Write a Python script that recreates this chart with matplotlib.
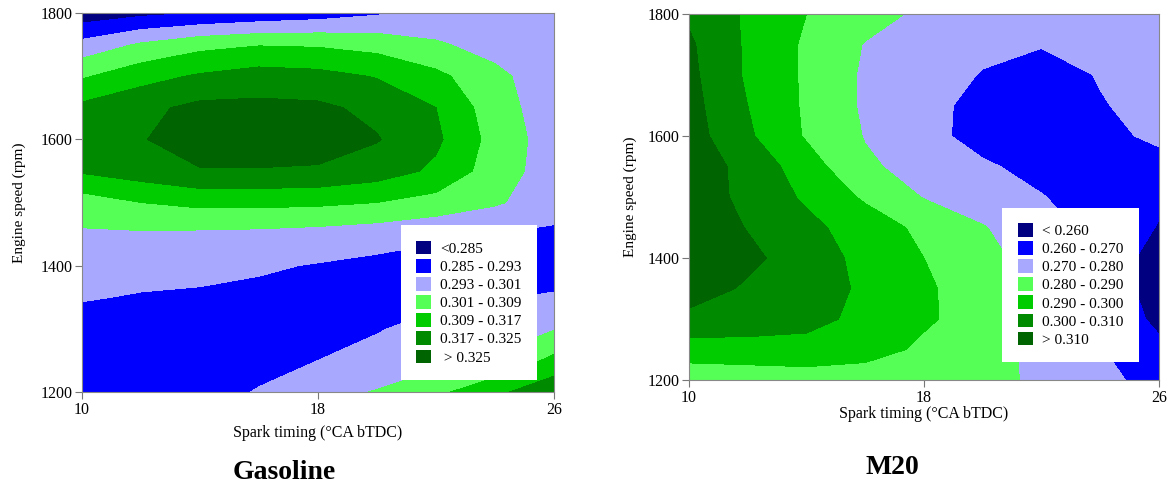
import numpy as np
import matplotlib.pyplot as plt
from matplotlib.patches import Patch

plt.rcParams['font.family'] = ['Liberation Serif', 'DejaVu Serif']

# grid: spark timing (deg CA bTDC) and engine speed (rpm)
spark = [10, 12, 14, 16, 18, 20, 22, 24, 26]
speed = [1200, 1250, 1300, 1350, 1400, 1450, 1500, 1550, 1600, 1650, 1700, 1750, 1800]

# gasoline values, one row per speed
gas_z = [
    [0.288, 0.2885, 0.290, 0.2935, 0.298, 0.3015, 0.307, 0.315, 0.323],
    [0.289, 0.288, 0.2885, 0.2905, 0.293, 0.2955, 0.2985, 0.302, 0.311],
    [0.290, 0.289, 0.288, 0.2885, 0.2895, 0.2925, 0.2955, 0.2975, 0.3005],
    [0.2935, 0.2925, 0.292, 0.291, 0.290, 0.2895, 0.291, 0.2922, 0.294],
    [0.296, 0.2955, 0.295, 0.294, 0.2925, 0.291, 0.2895, 0.2885, 0.288],
    [0.300, 0.300, 0.2995, 0.299, 0.298, 0.2965, 0.2945, 0.293, 0.2915],
    [0.305, 0.309, 0.311, 0.311, 0.3105, 0.309, 0.306, 0.302, 0.2965],
    [0.318, 0.321, 0.3245, 0.3245, 0.324, 0.321, 0.3155, 0.305, 0.297],
    [0.320, 0.3245, 0.329, 0.3295, 0.329, 0.3255, 0.3185, 0.306, 0.297],
    [0.319, 0.323, 0.327, 0.327, 0.3265, 0.323, 0.317, 0.3045, 0.2965],
    [0.308, 0.314, 0.318, 0.3205, 0.3195, 0.3165, 0.311, 0.303, 0.296],
    [0.2956, 0.302, 0.3065, 0.3085, 0.308, 0.306, 0.302, 0.298, 0.295],
    [0.280, 0.283, 0.285, 0.287, 0.289, 0.292, 0.295, 0.296, 0.297],
]

# M20 values
m20_z = [
    [0.283, 0.284, 0.285, 0.284, 0.2835, 0.2825, 0.2785, 0.2715, 0.268],
    [0.2955, 0.296, 0.2965, 0.2945, 0.288, 0.2835, 0.2775, 0.2705, 0.2625],
    [0.307, 0.3055, 0.303, 0.2975, 0.2915, 0.2855, 0.2775, 0.2685, 0.2575],
    [0.3155, 0.3085, 0.3045, 0.2985, 0.2915, 0.285, 0.2765, 0.2665, 0.2555],
    [0.3185, 0.3125, 0.3045, 0.2975, 0.290, 0.2825, 0.2765, 0.267, 0.2555],
    [0.3175, 0.3095, 0.3025, 0.2955, 0.2875, 0.2805, 0.2745, 0.2665, 0.2595],
    [0.3165, 0.307, 0.2985, 0.2885, 0.2795, 0.2755, 0.2705, 0.2645, 0.2615],
    [0.3155, 0.307, 0.2945, 0.2815, 0.2765, 0.2715, 0.2665, 0.264, 0.2655],
    [0.3145, 0.3015, 0.289, 0.2795, 0.2735, 0.266, 0.2635, 0.2665, 0.2725],
    [0.3135, 0.300, 0.2885, 0.2785, 0.2735, 0.2665, 0.264, 0.2695, 0.2725],
    [0.3125, 0.2985, 0.2885, 0.2785, 0.274, 0.2695, 0.2665, 0.2705, 0.273],
    [0.3115, 0.2985, 0.2885, 0.2795, 0.2745, 0.272, 0.2705, 0.272, 0.2735],
    [0.3085, 0.2985, 0.290, 0.284, 0.278, 0.275, 0.2735, 0.274, 0.2745],
]

gas_levels = [0.27, 0.285, 0.293, 0.301, 0.309, 0.317, 0.325, 0.34]
gas_labels = ['<0.285', '0.285 - 0.293', '0.293 - 0.301', '0.301 - 0.309',
              '0.309 - 0.317', '0.317 - 0.325', ' > 0.325']
m20_levels = [0.24, 0.26, 0.27, 0.28, 0.29, 0.30, 0.31, 0.33]
m20_labels = ['< 0.260', '0.260 - 0.270', '0.270 - 0.280', '0.280 - 0.290',
              '0.290 - 0.300', '0.300 - 0.310', '> 0.310']

colors = ['#000080', '#0000ff', '#a8a8ff', '#55ff55', '#00cc00', '#008a00', '#006400']

fig = plt.figure(figsize=(11.73, 4.86), dpi=100)
ax1 = fig.add_axes([82/1173, 1-392/486, 472/1173, 379/486])
ax2 = fig.add_axes([689/1173, 1-380/486, 470/1173, 366/486])


def panel(ax, z, levels, labels, leg_anchor, xlab_y, ylab_x):
    X, Y = np.meshgrid(spark, speed)
    ax.contourf(X, Y, np.array(z), levels=levels, colors=colors)
    ax.set_xlim(10, 26)
    ax.set_ylim(1200, 1800)
    ax.set_xticks([10, 18, 26])
    ax.set_yticks([1200, 1400, 1600, 1800])
    ax.tick_params(labelsize=11.5, length=5, width=0.8, color='#777777', pad=2)
    for s in ax.spines.values():
        s.set_color('#888888')
        s.set_linewidth(0.8)
    ax.set_xlabel('Spark timing (°CA bTDC)', fontsize=11.5)
    ax.xaxis.set_label_coords(0.5, xlab_y)
    ax.set_ylabel('Engine speed (rpm)', fontsize=11)
    ax.yaxis.set_label_coords(ylab_x, 0.5)
    handles = [Patch(facecolor=c, edgecolor='none') for c in colors]
    leg = ax.legend(handles, labels, loc='lower right', bbox_to_anchor=leg_anchor,
                    fontsize=11, frameon=True, fancybox=False, framealpha=1,
                    edgecolor='white', handlelength=1.0, handleheight=1.0,
                    labelspacing=0.2, borderpad=1.0, handletextpad=0.6,
                    borderaxespad=0)
    leg.get_frame().set_linewidth(0)


panel(ax1, gas_z, gas_levels, gas_labels, (0.964, 0.032), -0.087, -0.118)
panel(ax2, m20_z, m20_levels, m20_labels, (0.957, 0.049), -0.071, -0.11)

fig.text(284/1173, 1-472/486, 'Gasoline', fontsize=20, fontweight='bold',
         ha='center', va='center')
fig.text(892/1173, 1-468/486, 'M20', fontsize=20, fontweight='bold',
         ha='center', va='center')

fig.savefig('out.png', dpi=100)
